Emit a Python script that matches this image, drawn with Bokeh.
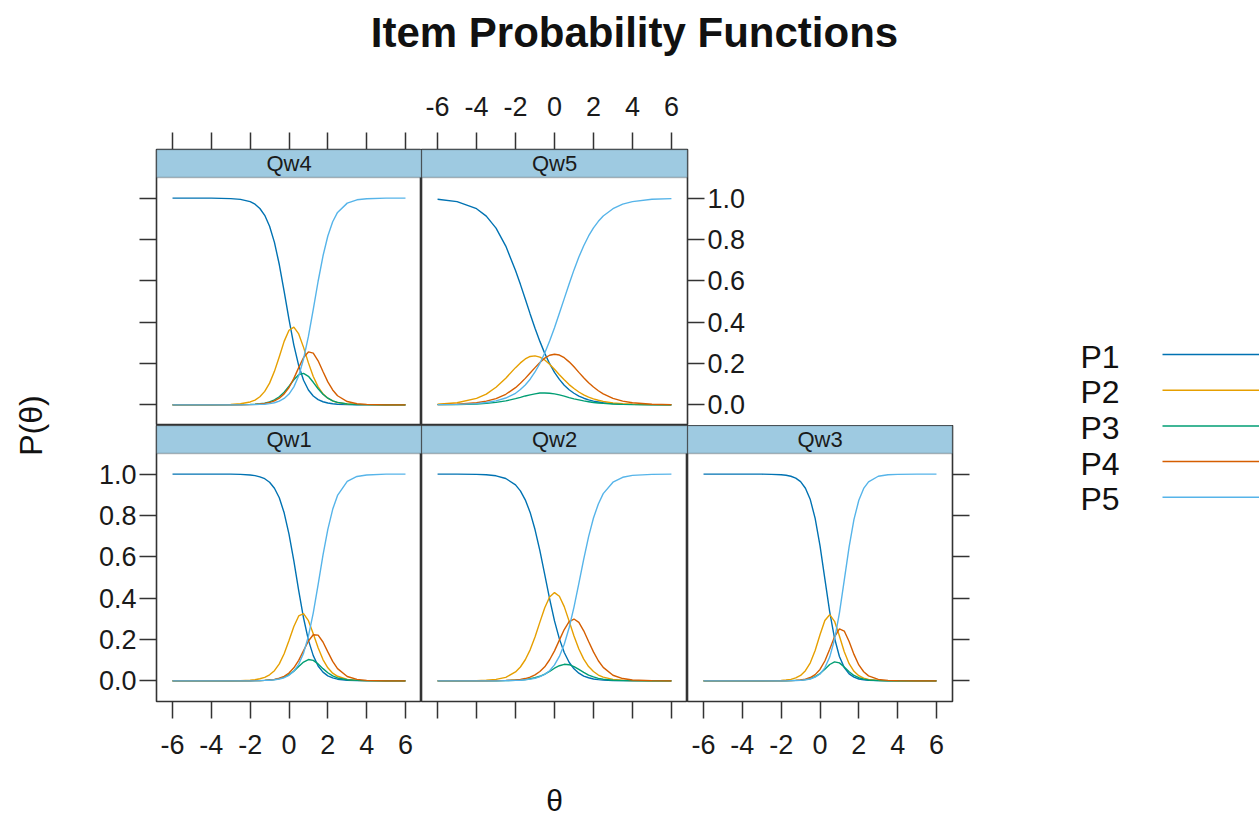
from math import pi
from bokeh.plotting import figure
from bokeh.models import (ColumnDataSource, Range1d, LinearAxis, FixedTicker,
                          BoxAnnotation, Label, PrintfTickFormatter)
from bokeh.layouts import row, column
from bokeh.embed import file_html
from bokeh.resources import INLINE
from bokeh.core.properties import value

FONT = "Liberation Sans"
TITLE = "Item Probability Functions"
X_LABEL = "θ"
Y_LABEL = "P(θ)"
CATEGORIES = ["P1", "P2", "P3", "P4", "P5"]
COLORS = ["#0072B2", "#E69F00", "#009E73", "#D55E00", "#56B4E9"]
STRIP_COLOR = "#9ecae1"
X_TICKS = [-6, -4, -2, 0, 2, 4, 6]
Y_TICKS = [0.0, 0.2, 0.4, 0.6, 0.8, 1.0]

THETA = [-6, -5, -4, -3.5, -3, -2.5, -2, -1.75, -1.5, -1.25, -1, -0.75, -0.5, -0.25,
         0, 0.25, 0.5, 0.75, 1, 1.25, 1.5, 1.75, 2, 2.25, 2.5, 3, 3.5, 4, 5, 6]

# ---- Qw1 ----
QW1_P1 = [1.000, 1.000, 1.000, 1.000, 1.000, 0.999, 0.996, 0.993, 0.987, 0.978, 0.961, 0.932, 0.886, 0.813,
          0.710, 0.580, 0.437, 0.304, 0.197, 0.122, 0.072, 0.042, 0.024, 0.014, 0.008, 0.003, 0.001, 0.000, 0.000, 0.000]
QW1_P2 = [0.000, 0.000, 0.000, 0.000, 0.000, 0.001, 0.003, 0.005, 0.010, 0.017, 0.029, 0.049, 0.082, 0.131,
          0.195, 0.263, 0.314, 0.325, 0.291, 0.228, 0.160, 0.103, 0.063, 0.037, 0.022, 0.007, 0.002, 0.001, 0.000, 0.000]
QW1_P3 = [0.000, 0.000, 0.000, 0.000, 0.000, 0.000, 0.000, 0.001, 0.001, 0.002, 0.004, 0.006, 0.011, 0.018,
          0.030, 0.047, 0.069, 0.091, 0.103, 0.099, 0.082, 0.059, 0.039, 0.024, 0.014, 0.005, 0.002, 0.001, 0.000, 0.000]
QW1_P4 = [0.000, 0.000, 0.000, 0.000, 0.000, 0.000, 0.000, 0.001, 0.001, 0.002, 0.004, 0.007, 0.013, 0.022,
          0.038, 0.063, 0.099, 0.146, 0.193, 0.223, 0.221, 0.188, 0.140, 0.094, 0.059, 0.021, 0.007, 0.002, 0.000, 0.000]
QW1_P5 = [0.000, 0.000, 0.000, 0.000, 0.000, 0.000, 0.000, 0.000, 0.001, 0.002, 0.003, 0.005, 0.009, 0.015,
          0.027, 0.047, 0.080, 0.134, 0.216, 0.329, 0.466, 0.608, 0.733, 0.830, 0.897, 0.965, 0.989, 0.996, 1.000, 1.000]

# ---- Qw2 ----
QW2_P1 = [1.000, 1.000, 0.999, 0.997, 0.992, 0.979, 0.948, 0.919, 0.876, 0.815, 0.732, 0.630, 0.514, 0.397,
          0.290, 0.203, 0.137, 0.090, 0.058, 0.037, 0.023, 0.015, 0.009, 0.006, 0.004, 0.001, 0.001, 0.000, 0.000, 0.000]
QW2_P2 = [0.000, 0.000, 0.001, 0.003, 0.007, 0.017, 0.043, 0.067, 0.102, 0.150, 0.212, 0.284, 0.354, 0.406,
          0.427, 0.409, 0.359, 0.289, 0.217, 0.154, 0.105, 0.069, 0.045, 0.028, 0.018, 0.007, 0.003, 0.001, 0.000, 0.000]
QW2_P3 = [0.000, 0.000, 0.000, 0.000, 0.000, 0.001, 0.003, 0.004, 0.006, 0.010, 0.015, 0.022, 0.033, 0.046,
          0.061, 0.073, 0.080, 0.078, 0.069, 0.055, 0.041, 0.028, 0.019, 0.012, 0.008, 0.003, 0.001, 0.001, 0.000, 0.000]
QW2_P4 = [0.000, 0.000, 0.000, 0.000, 0.001, 0.002, 0.004, 0.007, 0.011, 0.018, 0.029, 0.045, 0.068, 0.102,
          0.145, 0.197, 0.248, 0.286, 0.299, 0.283, 0.242, 0.190, 0.140, 0.097, 0.065, 0.027, 0.011, 0.004, 0.001, 0.000]
QW2_P5 = [0.000, 0.000, 0.000, 0.000, 0.000, 0.001, 0.002, 0.003, 0.005, 0.008, 0.012, 0.020, 0.031, 0.049,
          0.077, 0.118, 0.177, 0.257, 0.357, 0.472, 0.589, 0.698, 0.788, 0.856, 0.906, 0.961, 0.985, 0.994, 0.999, 1.000]

# ---- Qw3 ----
QW3_P1 = [1.000, 1.000, 1.000, 1.000, 1.000, 0.999, 0.997, 0.995, 0.990, 0.981, 0.964, 0.932, 0.877, 0.786,
          0.654, 0.493, 0.334, 0.206, 0.118, 0.064, 0.034, 0.018, 0.009, 0.005, 0.003, 0.001, 0.000, 0.000, 0.000, 0.000]
QW3_P2 = [0.000, 0.000, 0.000, 0.000, 0.000, 0.001, 0.002, 0.004, 0.007, 0.014, 0.026, 0.049, 0.087, 0.147,
          0.223, 0.292, 0.320, 0.288, 0.217, 0.141, 0.083, 0.046, 0.025, 0.013, 0.007, 0.002, 0.001, 0.000, 0.000, 0.000]
QW3_P3 = [0.000, 0.000, 0.000, 0.000, 0.000, 0.000, 0.000, 0.000, 0.001, 0.002, 0.003, 0.006, 0.011, 0.020,
          0.035, 0.056, 0.079, 0.092, 0.087, 0.067, 0.044, 0.026, 0.015, 0.008, 0.004, 0.001, 0.000, 0.000, 0.000, 0.000]
QW3_P4 = [0.000, 0.000, 0.000, 0.000, 0.000, 0.000, 0.000, 0.001, 0.001, 0.002, 0.004, 0.008, 0.016, 0.030,
          0.055, 0.096, 0.153, 0.213, 0.251, 0.241, 0.190, 0.128, 0.077, 0.044, 0.024, 0.007, 0.002, 0.001, 0.000, 0.000]
QW3_P5 = [0.000, 0.000, 0.000, 0.000, 0.000, 0.000, 0.000, 0.000, 0.001, 0.001, 0.002, 0.005, 0.009, 0.018,
          0.033, 0.063, 0.115, 0.201, 0.328, 0.487, 0.648, 0.781, 0.874, 0.931, 0.963, 0.990, 0.997, 0.999, 1.000, 1.000]

# ---- Qw4 ----
QW4_P1 = [1.000, 1.000, 1.000, 0.999, 0.998, 0.994, 0.983, 0.971, 0.950, 0.917, 0.864, 0.786, 0.679, 0.549,
          0.413, 0.289, 0.190, 0.119, 0.072, 0.043, 0.025, 0.015, 0.009, 0.005, 0.003, 0.001, 0.000, 0.000, 0.000, 0.000]
QW4_P2 = [0.000, 0.000, 0.000, 0.001, 0.002, 0.005, 0.014, 0.023, 0.039, 0.065, 0.105, 0.162, 0.233, 0.307,
          0.361, 0.376, 0.343, 0.278, 0.203, 0.137, 0.087, 0.053, 0.032, 0.019, 0.011, 0.004, 0.002, 0.001, 0.000, 0.000]
QW4_P3 = [0.000, 0.000, 0.000, 0.000, 0.000, 0.001, 0.002, 0.003, 0.005, 0.008, 0.014, 0.024, 0.039, 0.061,
          0.090, 0.121, 0.146, 0.152, 0.138, 0.109, 0.078, 0.051, 0.032, 0.019, 0.012, 0.004, 0.001, 0.001, 0.000, 0.000]
QW4_P4 = [0.000, 0.000, 0.000, 0.000, 0.000, 0.000, 0.001, 0.002, 0.004, 0.007, 0.011, 0.019, 0.032, 0.053,
          0.084, 0.128, 0.180, 0.229, 0.256, 0.250, 0.213, 0.161, 0.111, 0.072, 0.044, 0.016, 0.005, 0.002, 0.000, 0.000]
QW4_P5 = [0.000, 0.000, 0.000, 0.000, 0.000, 0.000, 0.001, 0.001, 0.002, 0.003, 0.006, 0.010, 0.018, 0.031,
          0.052, 0.087, 0.141, 0.222, 0.331, 0.462, 0.598, 0.720, 0.817, 0.886, 0.931, 0.976, 0.992, 0.997, 1.000, 1.000]

# ---- Qw5 ----
QW5_P1 = [0.995, 0.983, 0.949, 0.913, 0.855, 0.768, 0.650, 0.583, 0.512, 0.440, 0.371, 0.307, 0.249, 0.199,
          0.157, 0.123, 0.095, 0.073, 0.056, 0.042, 0.032, 0.024, 0.018, 0.014, 0.010, 0.006, 0.003, 0.002, 0.001, 0.000]
QW5_P2 = [0.003, 0.010, 0.031, 0.052, 0.085, 0.129, 0.180, 0.203, 0.222, 0.234, 0.237, 0.231, 0.217, 0.196,
          0.172, 0.146, 0.121, 0.098, 0.079, 0.062, 0.048, 0.037, 0.029, 0.022, 0.017, 0.009, 0.005, 0.003, 0.001, 0.000]
QW5_P3 = [0.001, 0.001, 0.004, 0.007, 0.012, 0.019, 0.030, 0.036, 0.043, 0.048, 0.053, 0.057, 0.057, 0.056,
          0.053, 0.048, 0.042, 0.035, 0.029, 0.024, 0.019, 0.015, 0.011, 0.009, 0.007, 0.004, 0.002, 0.001, 0.000, 0.000]
QW5_P4 = [0.001, 0.003, 0.010, 0.018, 0.030, 0.051, 0.083, 0.104, 0.128, 0.154, 0.180, 0.205, 0.226, 0.240,
          0.245, 0.241, 0.228, 0.208, 0.184, 0.157, 0.131, 0.107, 0.086, 0.068, 0.053, 0.031, 0.018, 0.010, 0.003, 0.001]
QW5_P5 = [0.001, 0.002, 0.006, 0.011, 0.019, 0.033, 0.056, 0.074, 0.096, 0.124, 0.159, 0.201, 0.251, 0.309,
          0.373, 0.443, 0.514, 0.585, 0.653, 0.715, 0.770, 0.817, 0.856, 0.888, 0.914, 0.949, 0.971, 0.983, 0.995, 0.998]

ITEMS = {
    "Qw1": [QW1_P1, QW1_P2, QW1_P3, QW1_P4, QW1_P5],
    "Qw2": [QW2_P1, QW2_P2, QW2_P3, QW2_P4, QW2_P5],
    "Qw3": [QW3_P1, QW3_P2, QW3_P3, QW3_P4, QW3_P5],
    "Qw4": [QW4_P1, QW4_P2, QW4_P3, QW4_P4, QW4_P5],
    "Qw5": [QW5_P1, QW5_P2, QW5_P3, QW5_P4, QW5_P5],
}

# ---- layout constants (pixels) ----
FRAME_H = 276
STRIP_H = 28
PLOT_H = FRAME_H - STRIP_H
Y_LO, Y_HI = -0.1, 1.1
Y_TOP = Y_HI + (Y_HI - Y_LO) * STRIP_H / PLOT_H
X_LO, X_HI = -6.825, 6.825
LINE_COL = "#333333"
TICK_LEN = 17
TICK_FONT = "27px"
PAGE_W = 1259
TITLE_H = 80
LEFT_W = 90


def add_axis(p, side, labels):
    is_y = side in ("left", "right")
    ax = LinearAxis(
        ticker=FixedTicker(ticks=Y_TICKS if is_y else X_TICKS),
        formatter=PrintfTickFormatter(format="%.1f" if is_y else "%d"),
        major_tick_out=TICK_LEN, major_tick_in=0,
        minor_tick_out=0, minor_tick_in=0,
        axis_line_color=None,
        major_tick_line_color=LINE_COL, major_tick_line_width=1.5,
        major_label_text_font=FONT,
        major_label_text_font_size=TICK_FONT,
        major_label_text_color="#1a1a1a" if labels else None,
        major_label_standoff=(3 if is_y else (17 if side == "above" else 16)),
    )
    p.add_layout(ax, side)


def make_panel(name, frame_w, borders, axes):
    bl, br, bt, bb = borders
    p = figure(frame_width=frame_w, frame_height=FRAME_H,
               x_range=Range1d(X_LO, X_HI), y_range=Range1d(Y_LO, Y_TOP),
               x_axis_location=None, y_axis_location=None,
               toolbar_location=None, output_backend="svg",
               min_border_left=bl, min_border_right=br,
               min_border_top=bt, min_border_bottom=bb)
    p.xgrid.visible = False
    p.ygrid.visible = False
    p.outline_line_color = LINE_COL
    p.outline_line_width = 1.6
    p.background_fill_color = "white"
    p.border_fill_color = "white"
    src = {"theta": THETA}
    for cat, vals in zip(CATEGORIES, ITEMS[name]):
        src[cat] = vals
    source = ColumnDataSource(src)
    for cat, col in zip(CATEGORIES, COLORS):
        p.line("theta", cat, source=source, line_color=col, line_width=1.4)
    p.add_layout(BoxAnnotation(bottom=Y_HI, fill_color=STRIP_COLOR, fill_alpha=1.0,
                               line_color=LINE_COL, line_width=1.6))
    p.add_layout(Label(x=0, y=(Y_HI + Y_TOP) / 2, text=name, text_align="center",
                       text_baseline="middle", text_font=FONT, text_font_size="22px",
                       text_color="#1a1a1a"))
    for side, labels in axes:
        add_axis(p, side, labels)
    return p


def blank(w, h):
    p = figure(width=w, height=h, x_range=Range1d(0, w), y_range=Range1d(h, 0),
               x_axis_location=None, y_axis_location=None,
               toolbar_location=None, output_backend="svg",
               min_border=0)
    p.xgrid.visible = False
    p.ygrid.visible = False
    p.outline_line_color = None
    p.background_fill_color = "white"
    p.border_fill_color = "white"
    return p


# panels
qw4 = make_panel("Qw4", 265, (66, 0, 69, 0), [("left", False), ("above", False)])
qw5 = make_panel("Qw5", 266, (0, 70, 69, 0), [("above", True), ("right", True)])
qw1 = make_panel("Qw1", 265, (66, 0, 0, 70), [("left", True), ("below", True)])
qw2 = make_panel("Qw2", 266, (0, 0, 0, 70), [("below", False)])
qw3 = make_panel("Qw3", 265, (0, 25, 0, 70), [("below", True), ("right", False)])

BOTTOM_W = 331 + 266 + 290
ROWS_H = 345 + 346
XLAB_H = 816 - TITLE_H - ROWS_H

# title
title_fig = blank(PAGE_W, TITLE_H)
title_fig.add_layout(Label(x=634, y=32, text=TITLE, text_align="center", text_baseline="middle",
                           text_font=FONT, text_font_style="bold", text_font_size="42px",
                           text_color="#111111"))

# x label (centred under the middle column)
xlab_fig = blank(BOTTOM_W, XLAB_H)
xlab_fig.add_layout(Label(x=464, y=29, text=X_LABEL, text_align="center", text_baseline="middle",
                          text_font=FONT, text_font_size="30px", text_color="#111111"))

# y label
ylab_fig = blank(LEFT_W, ROWS_H + XLAB_H)
ylab_fig.add_layout(Label(x=30, y=345, text=Y_LABEL, text_align="center", text_baseline="middle",
                          angle=pi / 2, text_font=FONT, text_font_size="32px", text_color="#111111"))

# legend (text left, line right)
LEG_W = PAGE_W - LEFT_W - BOTTOM_W
leg_fig = blank(LEG_W, ROWS_H + XLAB_H)
leg_y0, leg_dy = 274, 35.7
leg_ys = [leg_y0 + i * leg_dy for i in range(len(CATEGORIES))]
leg_src = ColumnDataSource(dict(y=leg_ys, ty=[y + 2 for y in leg_ys], label=CATEGORIES, color=COLORS))
leg_fig.segment(x0=185, x1=LEG_W + 10, y0="y", y1="y", source=leg_src, line_color="color", line_width=1.5)
leg_fig.text(x=103, y="ty", text="label", source=leg_src, text_font=value(FONT),
             text_font_size=value("32px"), text_baseline="middle", text_align="left",
             text_color="#111111")

panels = column(row(qw4, qw5), row(qw1, qw2, qw3), xlab_fig)
layout = column(title_fig, row(ylab_fig, panels, leg_fig))

open("out.html", "w").write(file_html(layout, INLINE))
